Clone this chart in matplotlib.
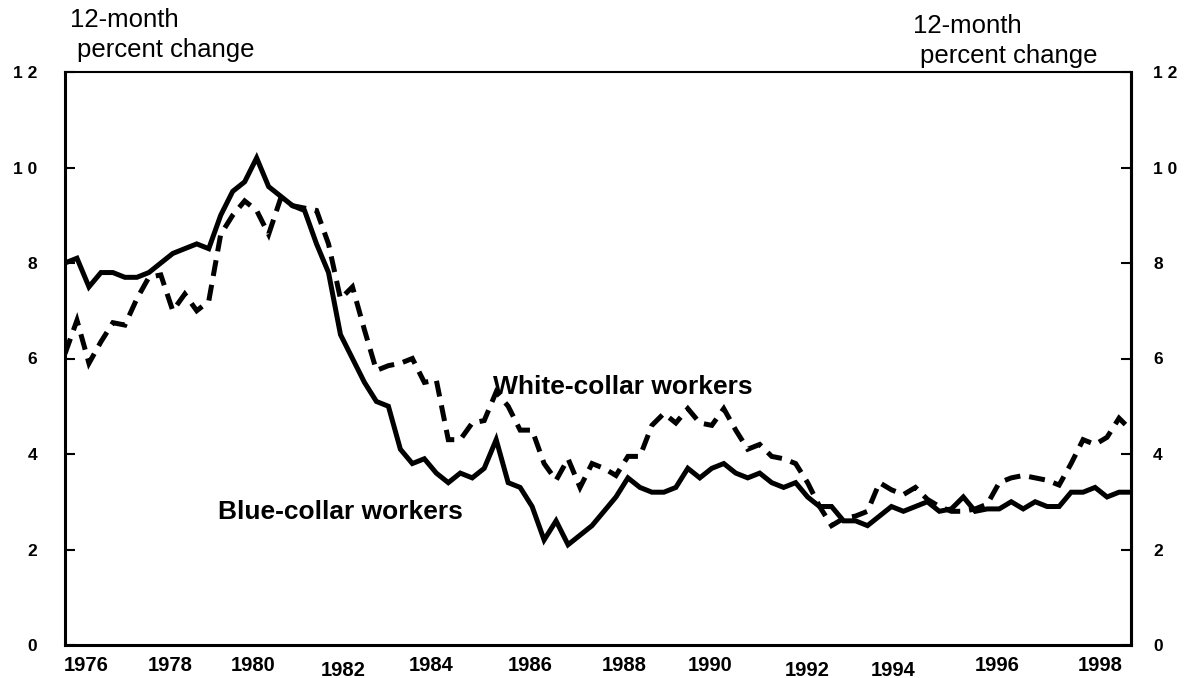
import numpy as np
import matplotlib
matplotlib.use("Agg")
import matplotlib.pyplot as plt

plt.rcParams['font.family'] = ['Liberation Sans', 'DejaVu Sans']

# 12-month percent change, quarterly
blue_collar = [8.0, 8.1, 7.5, 7.8, 7.8, 7.7, 7.7, 7.8, 8.0, 8.2,
               8.3, 8.4, 8.3, 9.0, 9.5, 9.7, 10.2, 9.6, 9.4, 9.2,
               9.1, 8.4, 7.8, 6.5, 6.0, 5.5, 5.1, 5.0, 4.1, 3.8,
               3.9, 3.6, 3.4, 3.6, 3.5, 3.7, 4.3, 3.4, 3.3, 2.9,
               2.2, 2.6, 2.1, 2.3, 2.5, 2.8, 3.1, 3.5, 3.3, 3.2,
               3.2, 3.3, 3.7, 3.5, 3.7, 3.8, 3.6, 3.5, 3.6, 3.4,
               3.3, 3.4, 3.1, 2.9, 2.9, 2.6, 2.6, 2.5, 2.7, 2.9,
               2.8, 2.9, 3.0, 2.8, 2.85, 3.1, 2.8, 2.85, 2.85, 3.0,
               2.85, 3.0, 2.9, 2.9, 3.2, 3.2, 3.3, 3.1, 3.2, 3.2]

white_collar = [6.1, 6.8, 5.9, 6.35, 6.75, 6.7, 7.25, 7.7, 7.75, 7.0,
                7.35, 7.0, 7.2, 8.6, 9.0, 9.3, 9.1, 8.6, 9.35, 9.2,
                9.15, 9.1, 8.4, 7.25, 7.5, 6.6, 5.75, 5.85, 5.9, 6.0,
                5.5, 5.55, 4.3, 4.3, 4.65, 4.7, 5.3, 5.0, 4.5, 4.5,
                3.8, 3.45, 3.9, 3.3, 3.8, 3.7, 3.55, 3.95, 3.95, 4.6,
                4.85, 4.65, 4.95, 4.65, 4.6, 4.95, 4.5, 4.1, 4.2, 3.95,
                3.9, 3.8, 3.4, 2.9, 2.5, 2.65, 2.7, 2.8, 3.4, 3.25,
                3.15, 3.3, 3.05, 2.9, 2.8, 2.8, 2.85, 2.95, 3.4, 3.5,
                3.55, 3.5, 3.45, 3.35, 3.8, 4.3, 4.2, 4.35, 4.75, 4.5]

year_labels = ['1976', '1978', '1980', '1982', '1984', '1986',
               '1988', '1990', '1992', '1994', '1996', '1998']
# where the labels sit, in quarters from the first observation
year_pos = [1.75, 8.77, 15.7, 23.2, 30.6, 38.8, 46.7, 53.85, 62.0, 69.1, 77.8, 86.4]
year_low = ['1982', '1992', '1994']  # these are drawn a little lower

y_ticks = [0, 2, 4, 6, 8, 10, 12]
y_labels = ['0', '2', '4', '6', '8', '1 0', '1 2']

W, H = 1188, 678
fig = plt.figure(figsize=(W / 100, H / 100), dpi=100)
ax = fig.add_axes([65 / W, 33 / H, 1066 / W, 573 / H])

x = np.arange(len(blue_collar))
ax.plot(x, blue_collar, color='black', lw=3.6, solid_joinstyle='miter')
ax.plot(x, white_collar, color='black', lw=3.6, dashes=(3.2, 1.8),
        dash_capstyle='butt', dash_joinstyle='miter')

ax.set_xlim(0, len(blue_collar) - 1)
ax.set_ylim(0, 12)

# year labels
ax.set_xticks([])
for lab, pos in zip(year_labels, year_pos):
    yy = -0.0541 if lab in year_low else -0.0454
    ax.text(pos, yy, lab, transform=ax.get_xaxis_transform(), ha='center',
            va='baseline', fontsize=14.5, fontweight='bold', clip_on=False)

# left and right value axes
ax.set_yticks(y_ticks)
ax.set_yticklabels(y_labels, fontsize=12.5, fontweight='bold')
ax.tick_params(axis='y', direction='in', length=7.5, width=1.5, pad=20)

ax2 = ax.secondary_yaxis('right')
ax2.set_yticks(y_ticks)
ax2.set_yticklabels(y_labels, fontsize=12.5, fontweight='bold')
ax2.tick_params(axis='y', direction='in', length=7.5, width=1.5, pad=16)
ax2.spines['right'].set_linewidth(2.2)

for s in ['left', 'bottom', 'right']:
    ax.spines[s].set_linewidth(2.2)
ax.spines['top'].set_linewidth(1.5)

ax.text(35.73, 5.26, 'White-collar workers', fontsize=19, fontweight='bold',
        ha='left', va='baseline')
ax.text(12.77, 2.64, 'Blue-collar workers', fontsize=19, fontweight='bold',
        ha='left', va='baseline')

fig.text(70 / W, 1 - 27 / H, '12-month', fontsize=18.5, ha='left', va='baseline')
fig.text(77 / W, 1 - 57 / H, 'percent change', fontsize=18.5, ha='left', va='baseline')
fig.text(913 / W, 1 - 33 / H, '12-month', fontsize=18.5, ha='left', va='baseline')
fig.text(920 / W, 1 - 63 / H, 'percent change', fontsize=18.5, ha='left', va='baseline')

fig.savefig('out.png', dpi=100)
